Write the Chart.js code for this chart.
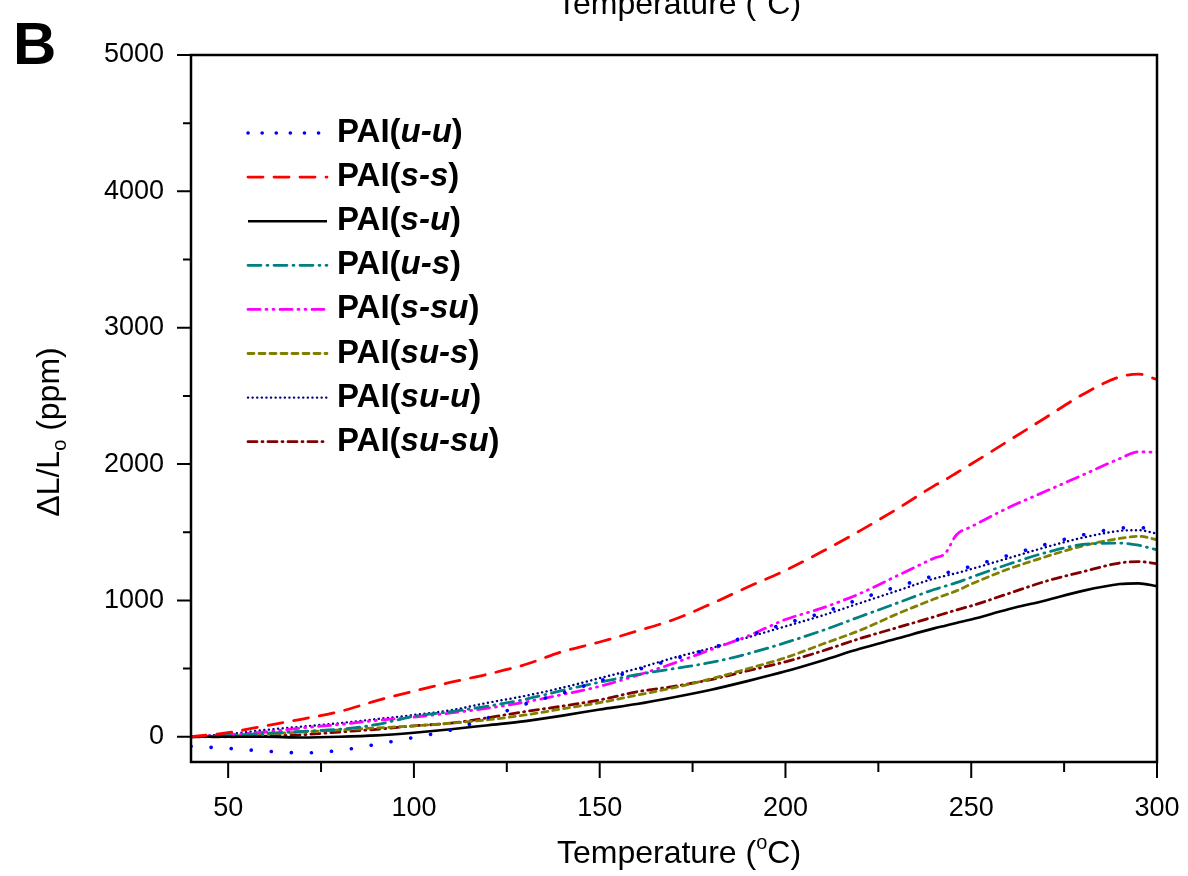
<!DOCTYPE html>
<html>
<head>
<meta charset="utf-8">
<script src="https://cdn.jsdelivr.net/npm/chart.js@4.4.1/dist/chart.umd.min.js"></script>
<style>
  body { margin: 0; background: #fff; }
  #wrap { width: 1188px; height: 876px; }
</style>
</head>
<body>
<div id="wrap"><canvas id="chart" width="1188" height="876"></canvas></div>
<script>
// Temperature points (°C) shared by every curve
const temps = [40, 50, 60, 70, 80, 90, 100, 110, 120, 130, 140, 150, 160, 170, 180, 190, 200, 210, 220, 230, 240, 243, 246, 250, 260, 270, 280, 290, 295, 300];

// dL/Lo in ppm
const uU   = [-70, -85, -105, -118, -100, -55, -5, 50, 140, 240, 320, 410, 490, 570, 650, 740, 830, 910, 1010, 1100, 1180, 1200, 1220, 1250, 1330, 1410, 1480, 1530, 1535, 1510];
const sS   = [0, 30, 80, 130, 185, 265, 335, 400, 460, 530, 625, 695, 775, 860, 975, 1100, 1220, 1360, 1510, 1670, 1840, 1885, 1935, 2000, 2170, 2340, 2510, 2640, 2660, 2620];
const sU   = [0, 0, 0, -5, 0, 10, 30, 55, 85, 115, 155, 200, 240, 290, 345, 410, 480, 560, 645, 720, 795, 815, 835, 860, 935, 1000, 1070, 1120, 1125, 1105];
const uS   = [0, 10, 25, 40, 55, 90, 150, 185, 225, 275, 340, 400, 455, 500, 545, 610, 690, 780, 880, 980, 1080, 1105, 1130, 1170, 1265, 1350, 1410, 1420, 1405, 1370];
const sSu  = [0, 15, 35, 65, 90, 120, 145, 175, 210, 255, 310, 370, 450, 540, 640, 740, 860, 945, 1050, 1180, 1310, 1345, 1480, 1540, 1680, 1800, 1920, 2040, 2090, 2085];
const suS  = [0, 5, 20, 35, 50, 65, 80, 100, 125, 160, 205, 250, 305, 360, 425, 500, 580, 680, 780, 900, 1010, 1040, 1070, 1120, 1230, 1320, 1400, 1455, 1470, 1446];
const suU  = [0, 20, 50, 75, 100, 130, 160, 195, 250, 300, 360, 430, 500, 580, 650, 730, 810, 890, 980, 1070, 1160, 1180, 1200, 1230, 1310, 1390, 1460, 1510, 1515, 1490];
const suSu = [0, 0, 5, 15, 35, 55, 80, 100, 140, 185, 225, 270, 330, 370, 420, 485, 550, 630, 720, 800, 880, 905, 930, 960, 1050, 1140, 1210, 1275, 1285, 1270];

// italic part of each legend name, PAI(...)
const names = ['u-u', 's-s', 's-u', 'u-s', 's-su', 'su-s', 'su-u', 'su-su'];

const xTicks = [50, 100, 150, 200, 250, 300];
const xMinor = [75, 125, 175, 225, 275];
const yTicks = [0, 1000, 2000, 3000, 4000, 5000];
const yMinor = [500, 1500, 2500, 3500, 4500];

const FONT = "'Liberation Sans', Arial, sans-serif";

function series(vals, color, dash, width) {
    return {
        data: temps.map((t, i) => ({ x: t, y: vals[i] })),
        borderColor: color,
        borderDash: dash,
        borderWidth: width || 2.6,
        borderCapStyle: dash.length ? 'round' : 'butt',
        pointRadius: 0,
        fill: false,
        cubicInterpolationMode: 'monotone'
    };
}

// Frame, tick marks and the texts Chart.js can't set (sub/superscripts)
const frame = {
    id: 'frame',
    afterDraw(chart) {
        const { ctx, chartArea: a, scales: { x, y } } = chart;
        ctx.save();
        ctx.strokeStyle = '#000';
        ctx.lineWidth = 2.5;
        ctx.strokeRect(a.left, a.top, a.right - a.left, a.bottom - a.top);

        ctx.lineWidth = 2;
        ctx.beginPath();
        yTicks.forEach(v => { const p = y.getPixelForValue(v); ctx.moveTo(a.left - 14, p); ctx.lineTo(a.left, p); });
        yMinor.forEach(v => { const p = y.getPixelForValue(v); ctx.moveTo(a.left - 8, p); ctx.lineTo(a.left, p); });
        xTicks.forEach(v => { const p = x.getPixelForValue(v); ctx.moveTo(p, a.bottom); ctx.lineTo(p, a.bottom + 16); });
        xMinor.forEach(v => { const p = x.getPixelForValue(v); ctx.moveTo(p, a.bottom); ctx.lineTo(p, a.bottom + 10); });
        ctx.stroke();

        ctx.fillStyle = '#000';
        ctx.textBaseline = 'alphabetic';

        // panel letter
        ctx.font = 'bold 60px ' + FONT;
        ctx.textAlign = 'left';
        ctx.fillText('B', 13, 64);

        // x title (bottom) and the cut-off one from the panel above
        const xTitle = (cx, base) => {
            const a1 = 'Temperature (', a2 = 'C)';
            ctx.font = '32px ' + FONT;
            const w1 = ctx.measureText(a1).width;
            const w2 = ctx.measureText(a2).width;
            ctx.font = '20px ' + FONT;
            const wo = ctx.measureText('o').width;
            const sx = cx - (w1 + wo + w2) / 2;
            ctx.textAlign = 'left';
            ctx.font = '32px ' + FONT;
            ctx.fillText(a1, sx, base);
            ctx.font = '20px ' + FONT;
            ctx.fillText('o', sx + w1, base - 14);
            ctx.font = '32px ' + FONT;
            ctx.fillText(a2, sx + w1 + wo, base);
        };
        xTitle(679, 863);
        xTitle(679, 14);

        // y title, rotated
        ctx.save();
        ctx.translate(59, 432);
        ctx.rotate(-Math.PI / 2);
        const p1 = '\u0394L/L', p2 = ' (ppm)';
        ctx.font = '32px ' + FONT;
        const w1 = ctx.measureText(p1).width;
        const w2 = ctx.measureText(p2).width;
        ctx.font = '20px ' + FONT;
        const wo = ctx.measureText('o').width;
        const sx = -(w1 + wo + w2) / 2;
        ctx.font = '32px ' + FONT;
        ctx.fillText(p1, sx, 0);
        ctx.font = '20px ' + FONT;
        ctx.fillText('o', sx + w1, 7);
        ctx.font = '32px ' + FONT;
        ctx.fillText(p2, sx + w1 + wo, 0);
        ctx.restore();

        ctx.restore();
    }
};

// Legend inside the plot: line sample + "PAI(" + italic part + ")"
const legendBox = {
    id: 'legendBox',
    afterDatasetsDraw(chart) {
        const ctx = chart.ctx;
        ctx.save();
        chart.data.datasets.forEach((ds, i) => {
            const yy = 133 + i * 44.1;
            ctx.strokeStyle = ds.borderColor;
            ctx.lineWidth = ds.borderWidth;
            ctx.lineCap = ds.borderCapStyle;
            ctx.setLineDash(i === 0 ? [0.1, 14] : ds.borderDash);
            ctx.beginPath();
            ctx.moveTo(248, yy);
            ctx.lineTo(327, yy);
            ctx.stroke();
            ctx.setLineDash([]);

            ctx.fillStyle = '#000';
            ctx.textAlign = 'left';
            ctx.textBaseline = 'middle';
            let tx = 337;
            ctx.font = 'bold 33px ' + FONT;
            ctx.fillText('PAI(', tx, yy);
            tx += ctx.measureText('PAI(').width;
            ctx.font = 'italic bold 33px ' + FONT;
            ctx.fillText(names[i], tx, yy);
            tx += ctx.measureText(names[i]).width;
            ctx.font = 'bold 33px ' + FONT;
            ctx.fillText(')', tx, yy);
        });
        ctx.restore();
    }
};

new Chart(document.getElementById('chart'), {
    type: 'line',
    data: {
        datasets: [
            series(uU, '#0000ff', [0.1, 20], 3.6),
            series(sS, '#ff0000', [15, 11], 2.8),
            series(sU, '#000000', [], 2.6),
            series(uS, '#008080', [13, 6, 1, 6], 2.8),
            series(sSu, '#ff00ff', [12, 6, 1, 6, 1, 6], 2.8),
            series(suS, '#808000', [6, 5], 2.8),
            series(suU, '#000080', [0.1, 4.5], 2.4),
            series(suSu, '#800000', [9, 5, 1, 5], 2.8)
        ]
    },
    options: {
        responsive: false,
        animation: false,
        events: [],
        layout: { padding: { top: 55, right: 31, left: 0, bottom: 0 } },
        plugins: { legend: { display: false }, tooltip: { enabled: false } },
        scales: {
            x: {
                type: 'linear',
                min: 40,
                max: 300,
                afterBuildTicks: s => { s.ticks = xTicks.map(v => ({ value: v })); },
                afterFit: s => { s.height = 114; s.paddingLeft = 0; s.paddingRight = 0; },
                grid: { display: false, drawTicks: false },
                border: { display: false },
                ticks: { color: '#000', padding: 30, maxRotation: 0, font: { family: FONT, size: 27 }, callback: v => String(v) }
            },
            y: {
                type: 'linear',
                min: -185,
                max: 5000,
                afterBuildTicks: s => { s.ticks = yTicks.map(v => ({ value: v })); },
                afterFit: s => { s.width = 191; s.paddingTop = 0; s.paddingBottom = 0; },
                grid: { display: false, drawTicks: false },
                border: { display: false },
                ticks: { color: '#000', padding: 27, font: { family: FONT, size: 27 }, callback: v => String(v) }
            }
        }
    },
    plugins: [frame, legendBox]
});
</script>
</body>
</html>
